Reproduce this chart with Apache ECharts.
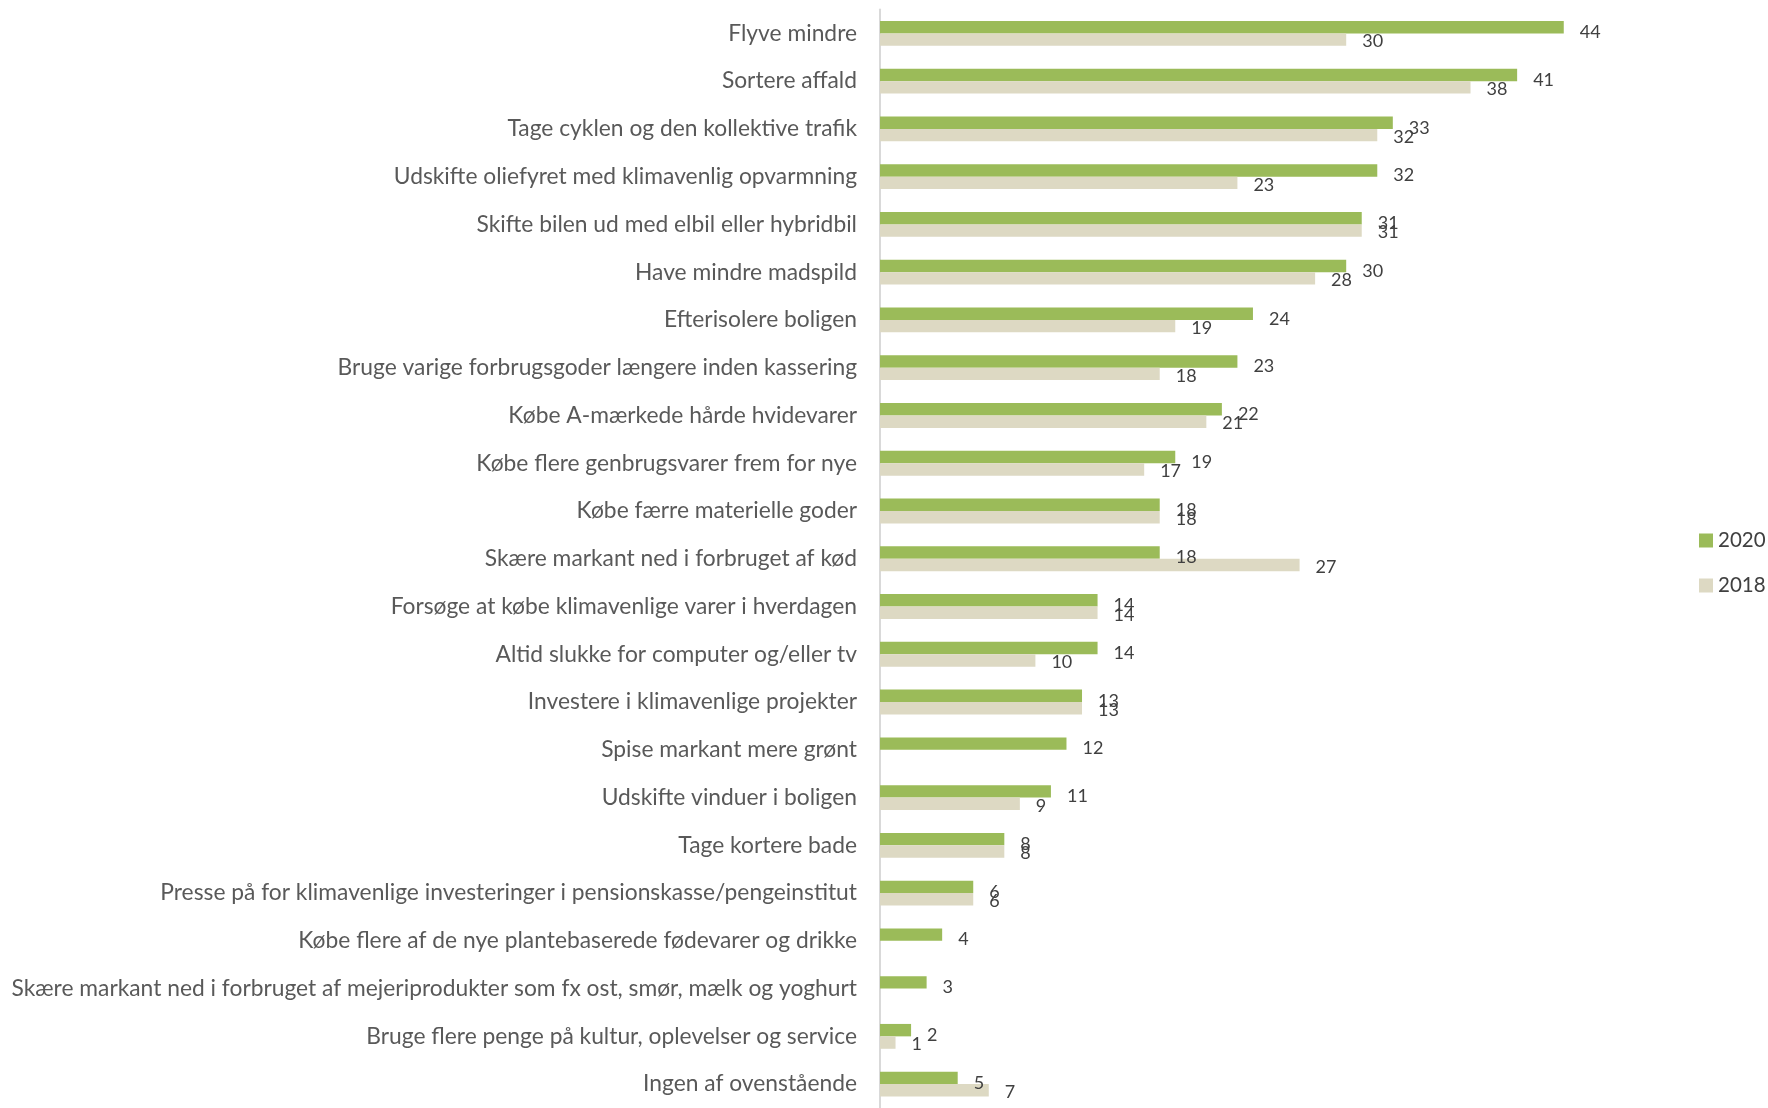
<!DOCTYPE html>
<html>
<head>
<meta charset="utf-8">
<script src="https://cdn.jsdelivr.net/npm/echarts@6/dist/echarts.min.js"></script>
<style>
html,body{margin:0;padding:0;background:#fff;}
#chart{width:1768px;height:1108px;}
</style>
</head>
<body>
<div id="chart"></div>
<script>
const categories = [
  "Flyve mindre",
  "Sortere affald",
  "Tage cyklen og den kollektive trafik",
  "Udskifte oliefyret med klimavenlig opvarmning",
  "Skifte bilen ud med elbil eller hybridbil",
  "Have mindre madspild",
  "Efterisolere boligen",
  "Bruge varige forbrugsgoder længere inden kassering",
  "Købe A-mærkede hårde hvidevarer",
  "Købe flere genbrugsvarer frem for nye",
  "Købe færre materielle goder",
  "Skære markant ned i forbruget af kød",
  "Forsøge at købe klimavenlige varer i hverdagen",
  "Altid slukke for computer og/eller tv",
  "Investere i klimavenlige projekter",
  "Spise markant mere grønt",
  "Udskifte vinduer i boligen",
  "Tage kortere bade",
  "Presse på for klimavenlige investeringer i pensionskasse/pengeinstitut",
  "Købe flere af de nye plantebaserede fødevarer og drikke",
  "Skære markant ned i forbruget af mejeriprodukter som fx ost, smør, mælk og yoghurt",
  "Bruge flere penge på kultur, oplevelser og service",
  "Ingen af ovenstående"
];
const values2020 = [44, 41, 33, 32, 31, 30, 24, 23, 22, 19, 18, 18, 14, 14, 13, 12, 11, 8, 6, 4, 3, 2, 5];
const values2018 = [30, 38, 32, 23, 31, 28, 19, 18, 21, 17, 18, 27, 14, 10, 13, null, 9, 8, 6, null, null, 1, 7];
const seriesNames = ["2020", "2018"];

const chart = echarts.init(document.getElementById('chart'), null, {renderer: 'canvas'});
function labelStyle(dy) {
  return {
    show: true,
    position: 'right',
    distance: 16,
    color: '#404040',
    fontSize: 18,
    fontFamily: 'Lato',
    offset: [0, dy]
  };
}
chart.setOption({
  animation: false,
  backgroundColor: '#ffffff',
  legend: {
    orient: 'vertical',
    left: 1699,
    top: 530,
    padding: 0,
    itemWidth: 14,
    itemHeight: 14,
    itemGap: 24,
    icon: 'rect',
    textStyle: {color: '#404040', fontSize: 20.5, fontFamily: 'Lato'},
    data: seriesNames
  },
  grid: {left: 880, width: 777, top: 9.5, bottom: -3.5, containLabel: false},
  xAxis: {
    type: 'value', min: 0, max: 50, show: false,
    splitLine: {show: false}
  },
  yAxis: {
    type: 'category',
    inverse: true,
    data: categories,
    axisLine: {show: true, lineStyle: {color: '#D9D9D9', width: 2}},
    axisTick: {show: false},
    axisLabel: {color: '#595959', fontSize: 22.8, fontFamily: 'Lato', margin: 23}
  },
  series: [
    {
      name: seriesNames[0], type: 'bar', data: values2020,
      barGap: '0%', barCategoryGap: '48%',
      itemStyle: {color: '#9BBB59'},
      label: labelStyle(5)
    },
    {
      name: seriesNames[1], type: 'bar', data: values2018,
      barGap: '0%', barCategoryGap: '48%',
      itemStyle: {color: '#DDD9C3'},
      label: labelStyle(2)
    }
  ]
});
</script>
</body>
</html>
